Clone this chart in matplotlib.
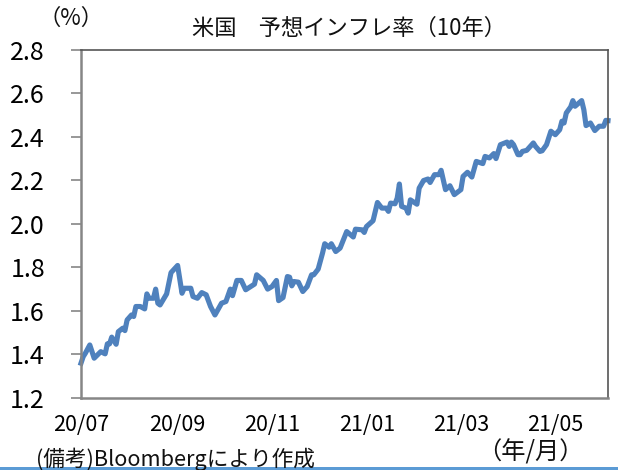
import matplotlib
matplotlib.use('Agg')
import matplotlib.pyplot as plt

plt.rcParams['font.family'] = ['Noto Sans CJK JP', 'DejaVu Sans']

# business day counter from 2020/07
days = [0, 1, 2, 4, 6, 7, 9, 11, 12, 13, 14, 16, 17, 19, 20, 21, 23, 24, 25, 27, 29, 30, 31, 33, 34, 35, 36, 39,
        41, 44, 46, 47, 50, 51, 53, 55, 57, 59, 61, 64, 66, 68, 69, 71, 73, 75, 79, 80, 83, 85, 87, 89, 90, 92,
        94, 95, 96, 97, 99, 101, 103, 105, 106, 108, 110, 111, 113, 114, 116, 118, 121, 124, 125, 128, 129, 130,
        133, 135, 137, 139, 140, 141, 143, 144, 145, 146, 148, 149, 150, 153, 154, 156, 158, 159, 161, 163, 164,
        166, 168, 170, 173, 174, 176, 178, 180, 183, 184, 186, 188, 189, 191, 194, 195, 196, 197, 199, 200, 201,
        203, 206, 207, 209, 210, 212, 214, 216, 218, 219, 220, 221, 223, 224, 225, 228, 229, 230, 232, 234, 236,
        238, 239, 240]
inflation = [1.358, 1.388, 1.404, 1.442, 1.381, 1.391, 1.411, 1.401, 1.447, 1.447, 1.478, 1.445, 1.503, 1.519,
             1.508, 1.557, 1.580, 1.573, 1.619, 1.619, 1.608, 1.677, 1.657, 1.657, 1.699, 1.634, 1.626, 1.677,
             1.775, 1.808, 1.680, 1.703, 1.703, 1.665, 1.657, 1.683, 1.673, 1.619, 1.580, 1.634, 1.642, 1.699,
             1.669, 1.739, 1.739, 1.696, 1.722, 1.765, 1.739, 1.699, 1.711, 1.739, 1.646, 1.660, 1.757, 1.754,
             1.714, 1.734, 1.731, 1.688, 1.711, 1.765, 1.765, 1.791, 1.865, 1.908, 1.892, 1.908, 1.872, 1.888,
             1.964, 1.939, 1.975, 1.972, 1.960, 1.987, 2.014, 2.098, 2.072, 2.072, 2.057, 2.095, 2.092, 2.118,
             2.183, 2.080, 2.072, 2.049, 2.110, 2.090, 2.164, 2.199, 2.206, 2.190, 2.226, 2.226, 2.246, 2.157,
             2.175, 2.134, 2.157, 2.218, 2.237, 2.215, 2.287, 2.277, 2.310, 2.303, 2.323, 2.300, 2.364, 2.376,
             2.356, 2.376, 2.364, 2.318, 2.318, 2.333, 2.338, 2.372, 2.356, 2.333, 2.336, 2.364, 2.426, 2.410,
             2.433, 2.472, 2.464, 2.510, 2.538, 2.567, 2.541, 2.567, 2.525, 2.452, 2.464, 2.429, 2.449, 2.449,
             2.476, 2.475]

x_tick_days = [0, 44, 87, 130.5, 173, 216]
x_tick_labels = ['20/07', '20/09', '20/11', '21/01', '21/03', '21/05']
y_ticks = [1.2, 1.4, 1.6, 1.8, 2.0, 2.2, 2.4, 2.6, 2.8]

W, H = 618, 470
fig = plt.figure(figsize=(W / 100, H / 100), dpi=100)
ax = fig.add_axes([81 / W, (H - 397.5) / H, 527 / W, 347.5 / H])

ax.plot(days, inflation, color='#4f81bd', linewidth=3.7, solid_joinstyle='round', clip_on=False)

ax.set_xlim(0, 240)
ax.set_ylim(1.2, 2.8)
ax.set_yticks(y_ticks)
ax.set_yticklabels([f'{v:.1f}' for v in y_ticks], fontsize=18)
ax.set_xticks(x_tick_days)
ax.set_xticklabels(x_tick_labels, fontsize=15.5)
ax.tick_params(axis='y', length=7, width=1.2, color='#868686', pad=19)
ax.tick_params(axis='x', length=0, pad=12)

for side in ['left', 'bottom']:
    ax.spines[side].set_color('#868686')
    ax.spines[side].set_linewidth(1.8)
for side in ['top', 'right']:
    ax.spines[side].set_color('#555555')
    ax.spines[side].set_linewidth(1.2)

fig.text(349 / W, 1 - 28 / H, '米国　予想インフレ率（10年）', fontsize=16, ha='center', va='center', color='#111111')
fig.text(71 / W, 1 - 18 / H, '（%）', fontsize=16, ha='center', va='center', color='#111111')
fig.text(36 / W, 1 - 459 / H, '(備考)Bloombergにより作成', fontsize=15.6, ha='left', va='center', color='#111111')
fig.text(530 / W, 1 - 453 / H, '（年/月）', fontsize=17.5, ha='center', va='center', color='#111111')

# blue rule along the bottom edge
fig.add_artist(plt.Rectangle((0, 0), 1, 3 / H, transform=fig.transFigure, color='#5b9bd5', linewidth=0))

fig.savefig('out.png', dpi=100)
